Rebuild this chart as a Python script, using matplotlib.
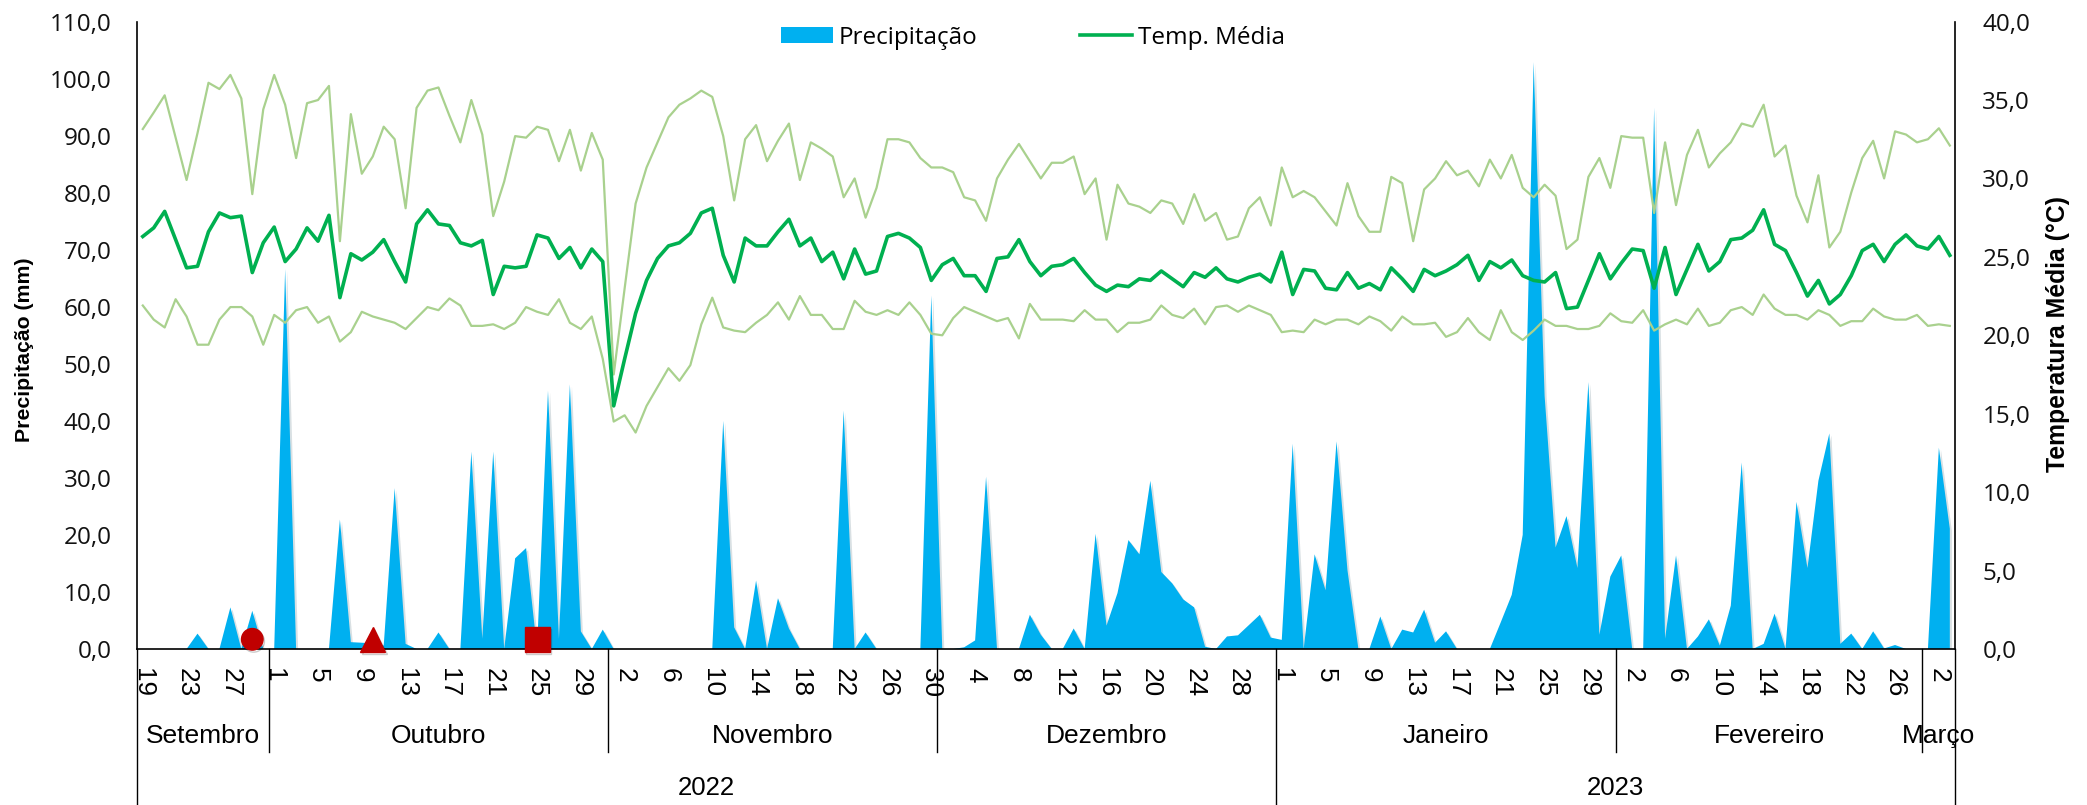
import numpy as np
import pandas as pd
import matplotlib
matplotlib.use('Agg')
import matplotlib.pyplot as plt
from matplotlib import font_manager as fm
from matplotlib.lines import Line2D
from matplotlib.patches import Patch
import matplotlib.patheffects as pe

# ---------------- data ----------------
dates = pd.date_range('2022-09-19', '2023-03-03', freq='D')

precip = [
    0, 0, 0, 0, 0, 2.7, 0, 0, 7.3, 0,
    6.7, 0, 0, 66.6, 0, 0, 0, 0, 22.7, 1.2,
    1.1, 1.0, 0.6, 28.2, 0.9, 0, 0, 2.9, 0, 0,
    34.6, 1.8, 34.6, 0, 15.9, 17.7, 0, 45.3, 1.8, 46.4,
    3.1, 0, 3.4, 0, 0, 0, 0, 0, 0, 0,
    0, 0, 0, 40.0, 3.8, 0, 12.0, 0, 8.9, 3.6,
    0, 0, 0, 0, 41.8, 0, 2.9, 0, 0, 0,
    0, 0, 62.0, 0, 0, 0.3, 1.5, 30.2, 0, 0,
    0, 6.0, 2.5, 0, 0, 3.6, 0, 20.2, 4.1, 9.8,
    19.1, 16.6, 29.5, 13.5, 11.5, 8.7, 7.3, 0.4, 0, 2.2,
    2.4, 4.2, 6.0, 2.0, 1.6, 36.0, 0, 16.6, 10.3, 36.4,
    13.8, 0, 0, 5.7, 0, 3.4, 2.9, 6.9, 1.1, 3.1,
    0, 0, 0, 0, 4.7, 9.5, 20.0, 102.9, 44.4, 17.8,
    23.3, 14.2, 46.8, 2.5, 12.7, 16.4, 0, 0, 94.9, 1.8,
    16.4, 0, 2.2, 5.2, 0.6, 7.6, 32.7, 0, 0.9, 6.2,
    0, 25.8, 14.2, 29.5, 37.8, 0.9, 2.7, 0, 3.1, 0.1,
    0.7, 0, 0, 0, 35.3, 21.1,
]

temp_mean = [
    26.3, 26.85, 27.9, 26.1, 24.3, 24.4, 26.6, 27.8, 27.5, 27.6,
    24.0, 25.9, 26.9, 24.7, 25.5, 26.85, 26.0, 27.65, 22.4, 25.2,
    24.8, 25.3, 26.1, 24.7, 23.4, 27.1, 28.0, 27.1, 27.0, 25.9,
    25.7, 26.05, 22.6, 24.4, 24.3, 24.4, 26.4, 26.2, 24.9, 25.6,
    24.3, 25.5, 24.7, 15.5, 18.5, 21.4, 23.5, 24.9, 25.7, 25.9,
    26.5, 27.8, 28.1, 25.1, 23.4, 26.2, 25.7, 25.7, 26.6, 27.4,
    25.7, 26.2, 24.7, 25.3, 23.6, 25.5, 23.9, 24.1, 26.3, 26.5,
    26.2, 25.6, 23.5, 24.5, 24.9, 23.8, 23.8, 22.8, 24.9, 25.0,
    26.1, 24.7, 23.8, 24.4, 24.5, 24.9, 24.0, 23.2, 22.8, 23.2,
    23.1, 23.6, 23.5, 24.1, 23.6, 23.1, 24.0, 23.7, 24.3, 23.6,
    23.4, 23.7, 23.9, 23.4, 25.3, 22.6, 24.2, 24.1, 23.0, 22.9,
    24.0, 23.0, 23.3, 22.9, 24.3, 23.6, 22.8, 24.2, 23.8, 24.1,
    24.5, 25.1, 23.5, 24.7, 24.3, 24.8, 23.8, 23.5, 23.4, 24.0,
    21.7, 21.8, 23.5, 25.2, 23.6, 24.6, 25.5, 25.4, 23.0, 25.6,
    22.6, 24.2, 25.8, 24.1, 24.7, 26.1, 26.2, 26.7, 28.0, 25.8,
    25.4, 24.0, 22.5, 23.5, 22.0, 22.6, 23.8, 25.4, 25.8, 24.7,
    25.8, 26.4, 25.7, 25.5, 26.3, 25.1,
]

temp_max = [
    33.15, 34.2, 35.3, 32.6, 29.9, 32.9, 36.1, 35.7, 36.6, 35.1,
    29.0, 34.4, 36.6, 34.7, 31.3, 34.8, 35.0, 35.9, 26.0, 34.1,
    30.3, 31.4, 33.3, 32.5, 28.1, 34.5, 35.6, 35.8, 34.0, 32.3,
    35.0, 32.8, 27.6, 29.8, 32.7, 32.6, 33.3, 33.1, 31.1, 33.1,
    30.5, 32.9, 31.2, 17.5, 23.0, 28.4, 30.7, 32.3, 33.9, 34.7,
    35.1, 35.6, 35.2, 32.7, 28.6, 32.5, 33.4, 31.1, 32.4, 33.5,
    29.9, 32.3, 31.9, 31.4, 28.8, 30.0, 27.5, 29.4, 32.5, 32.5,
    32.3, 31.3, 30.7, 30.7, 30.4, 28.8, 28.6, 27.3, 30.0, 31.2,
    32.2, 31.1, 30.0, 31.0, 31.0, 31.4, 29.0, 30.0, 26.1, 29.6,
    28.4, 28.2, 27.8, 28.6, 28.4, 27.1, 29.0, 27.3, 27.8, 26.1,
    26.3, 28.1, 28.8, 27.0, 30.7, 28.8, 29.2, 28.8, 27.9, 27.0,
    29.7, 27.6, 26.6, 26.6, 30.1, 29.7, 26.0, 29.3, 30.0, 31.1,
    30.2, 30.5, 29.5, 31.2, 30.0, 31.5, 29.4, 28.8, 29.6, 28.9,
    25.5, 26.1, 30.1, 31.3, 29.4, 32.7, 32.6, 32.6, 27.8, 32.3,
    28.3, 31.5, 33.1, 30.7, 31.6, 32.3, 33.5, 33.3, 34.7, 31.4,
    32.1, 28.9, 27.2, 30.2, 25.6, 26.6, 29.1, 31.3, 32.4, 30.0,
    33.0, 32.8, 32.3, 32.5, 33.2, 32.1,
]

temp_min = [
    21.9, 21.0, 20.5, 22.3, 21.2, 19.4, 19.4, 21.0, 21.8, 21.8,
    21.2, 19.4, 21.3, 20.8, 21.6, 21.8, 20.8, 21.2, 19.6, 20.2,
    21.5, 21.2, 21.0, 20.8, 20.4, 21.1, 21.8, 21.6, 22.35, 21.9,
    20.6, 20.6, 20.7, 20.4, 20.8, 21.8, 21.5, 21.3, 22.3, 20.8,
    20.4, 21.2, 18.5, 14.5, 14.9, 13.8, 15.5, 16.7, 17.9, 17.1,
    18.1, 20.7, 22.4, 20.5, 20.3, 20.2, 20.8, 21.3, 22.1, 21.0,
    22.5, 21.3, 21.3, 20.4, 20.4, 22.2, 21.5, 21.3, 21.6, 21.3,
    22.1, 21.3, 20.1, 20.0, 21.1, 21.8, 21.5, 21.2, 20.9, 21.1,
    19.8, 22.0, 21.0, 21.0, 21.0, 20.9, 21.6, 21.0, 21.0, 20.2,
    20.8, 20.8, 21.0, 21.9, 21.3, 21.1, 21.7, 20.7, 21.8, 21.9,
    21.5, 21.9, 21.6, 21.3, 20.2, 20.3, 20.2, 21.0, 20.7, 21.0,
    21.0, 20.7, 21.2, 20.9, 20.3, 21.2, 20.7, 20.7, 20.8, 19.9,
    20.2, 21.1, 20.2, 19.7, 21.6, 20.2, 19.7, 20.3, 21.0, 20.6,
    20.6, 20.4, 20.4, 20.6, 21.4, 20.9, 20.8, 21.6, 20.3, 20.7,
    21.0, 20.7, 21.7, 20.6, 20.8, 21.6, 21.8, 21.3, 22.6, 21.7,
    21.3, 21.3, 21.0, 21.6, 21.3, 20.6, 20.9, 20.9, 21.7, 21.2,
    21.0, 21.0, 21.3, 20.6, 20.7, 20.6,
]

# event markers (day index, value in mm, marker)
event_idx = [10, 21, 36]
event_val = [1.7, 1.7, 1.7]
event_marker = ['o', '^', 's']

month_names = ['Setembro', 'Outubro', 'Novembro', 'Dezembro', 'Janeiro', 'Fevereiro', 'Março']
year_names = ['2022', '2023']
series_labels = ['Precipitação', 'Temp. Média']

# ---------------- fonts ----------------
def pick(names):
    avail = {f.name for f in fm.fontManager.ttflist}
    for n in names:
        if n in avail:
            return n
    return 'DejaVu Sans'

NARROW = pick(['Liberation Sans Narrow', 'Liberation Sans'])
WIDE = pick(['Open Sans', 'Noto Sans', 'DejaVu Sans'])

# ---------------- figure ----------------
W, H = 2087, 805
fig = plt.figure(figsize=(W / 100, H / 100), dpi=100)
L, R, T, B = 137.3, 1955.3, 21.6, 649.0
ax = fig.add_axes([L / W, 1 - B / H, (R - L) / W, (B - T) / H])
ax2 = ax.twinx()

n = len(dates)
x = np.arange(n)

ax.fill_between(x, 0, precip, color='#00B0F0', lw=0, zorder=2,
                path_effects=[pe.SimplePatchShadow(offset=(1.5, -1.5), alpha=0.15), pe.Normal()])
for i, v, m in zip(event_idx, event_val, event_marker):
    ms = 15.5 if m == 'o' else 18
    ax.plot([x[i]], [v], marker=m, ms=ms, color='#C00000', mec='#C00000', ls='none',
            zorder=4, clip_on=False,
            path_effects=[pe.SimpleLineShadow(offset=(1, -1.5), alpha=0.2), pe.Normal()])

ax2.plot(x, temp_max, color='#A9D18E', lw=1.6, solid_joinstyle='round', zorder=3)
ax2.plot(x, temp_min, color='#A9D18E', lw=1.6, solid_joinstyle='round', zorder=3)
ax2.plot(x, temp_mean, color='#00B050', lw=2.6, solid_joinstyle='round', zorder=4)

ax.set_xlim(-0.5, n - 0.5)
ax.set_ylim(0, 110)
ax2.set_ylim(0, 40)

# spines
for a in (ax, ax2):
    a.spines['top'].set_visible(False)
ax.spines['right'].set_visible(False)
ax2.spines['left'].set_visible(False)
ax2.spines['bottom'].set_visible(False)
for s in (ax.spines['left'], ax.spines['bottom'], ax2.spines['right']):
    s.set_color('black')
    s.set_linewidth(1.2)

def fmt(v):
    return f"{v:.1f}".replace('.', ',')

yt = np.arange(0, 111, 10)
ax.set_yticks(yt, [fmt(v) for v in yt])
yt2 = np.arange(0, 41, 5)
ax2.set_yticks(yt2, [fmt(v) for v in yt2])
ax.tick_params(axis='y', length=0, pad=18.5, labelsize=17.5)
ax2.tick_params(axis='y', length=0, pad=19.5, labelsize=17.5)
for lab in ax.get_yticklabels() + ax2.get_yticklabels():
    lab.set_fontfamily(WIDE)
    lab.set_color('#111111')

# x ticks: day numbers every 4 days
xt = x[::4]
ax.set_xticks(xt, [str(dates[i].day) for i in xt], rotation=270)
ax.tick_params(axis='x', length=0, pad=13.5, labelsize=18.8)
for lab in ax.get_xticklabels():
    lab.set_fontfamily(NARROW)
    lab.set_va('top')
    lab.set_ha('center')

# month / year groupings
def yfrac(py):
    return (B - py) / (B - T)

trans = ax.get_xaxis_transform()
months = pd.Series(x, index=dates).groupby([dates.year, dates.month])
edges = [0]
for (yy, mm), grp in months:
    s, e = grp.values[0], grp.values[-1]
    ax.text((s + e) / 2, yfrac(736), month_names[len(edges) - 1], transform=trans,
            ha='center', va='center', fontsize=19, family=NARROW, clip_on=False)
    edges.append(e + 1)
years = pd.Series(x, index=dates).groupby(dates.year)
year_edges = [0]
for k, (yy, grp) in enumerate(years):
    s, e = grp.values[0], grp.values[-1]
    ax.text((s + e) / 2, yfrac(788), year_names[k], transform=trans,
            ha='center', va='center', fontsize=18.5, family=NARROW, clip_on=False)
    year_edges.append(e + 1)

for ed in sorted(set(edges)):
    bottom = 805 if ed in year_edges else 752
    ax.add_line(Line2D([ed - 0.5, ed - 0.5], [0, yfrac(bottom)], transform=trans,
                       color='black', lw=1.0, clip_on=False))

# axis titles
fig.text(25 / W, 1 - 350 / H, 'Precipitação (mm)', rotation=90, ha='center', va='center',
         fontsize=15.3, fontweight='bold', family=NARROW)
fig.text(2058 / W, 1 - 334 / H, 'Temperatura Média (°C)', rotation=90, ha='center', va='center',
         fontsize=17.8, fontweight='bold', family=NARROW)

# legend
handles = [Patch(facecolor='#00B0F0', edgecolor='none'),
           Line2D([0], [0], color='#00B050', lw=2.6)]
fig.legend(handles, series_labels, loc='center', bbox_to_anchor=(1033 / W, 1 - 37.8 / H),
           ncol=2, frameon=False, prop={'family': WIDE, 'size': 17.5},
           handlelength=2.15, handleheight=0.66, handletextpad=0.25, columnspacing=4.2)

fig.savefig('out.png', dpi=100)
